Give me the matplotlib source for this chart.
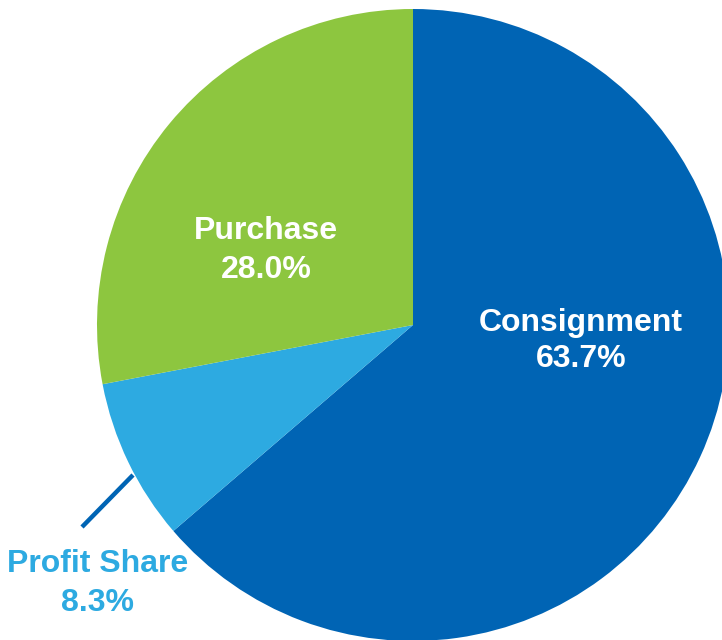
import matplotlib.pyplot as plt

# datos del gráfico
labels = ['Consignment', 'Profit Share', 'Purchase']
values = [63.7, 8.3, 28.0]
colors = ['#0064B4', '#2DAAE1', '#8DC63F']

W, H = 722, 640
fig = plt.figure(figsize=(W / 100, H / 100), dpi=100)
ax = fig.add_axes([0, 0, 1, 1])

# pastel, empieza arriba y gira en sentido horario
ax.pie(values, colors=colors, startangle=90, counterclock=False,
       center=(413, H - 325), radius=316, frame=True,
       wedgeprops=dict(linewidth=0))
ax.set_xlim(0, W)
ax.set_ylim(0, H)
ax.set_aspect('equal')
ax.axis('off')

font = dict(family=['Liberation Sans', 'DejaVu Sans'], weight='bold', fontsize=23)

# etiquetas dentro de las porciones
ax.text(581, H - 323, f'{labels[0]}', color='white', ha='center', va='center', **font)
ax.text(581, H - 359, f'{values[0]:.1f}%', color='white', ha='center', va='center', **font)
ax.text(266, H - 231, f'{labels[2]}', color='white', ha='center', va='center', **font)
ax.text(266, H - 270, f'{values[2]:.1f}%', color='white', ha='center', va='center', **font)

# etiqueta externa con línea guía
ax.plot([133, 82], [H - 475, H - 527], color='#0064B4', linewidth=3.2, solid_capstyle='butt')
ax.text(98, H - 564, f'{labels[1]}', color='#2DAAE1', ha='center', va='center', **font)
ax.text(98, H - 603, f'{values[1]:.1f}%', color='#2DAAE1', ha='center', va='center', **font)

fig.savefig('out.png', dpi=100)
